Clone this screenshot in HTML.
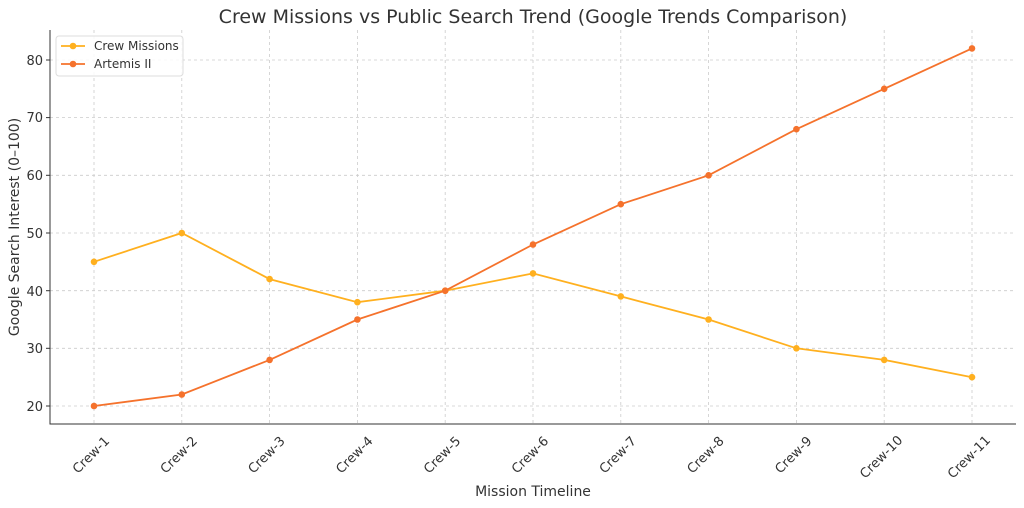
<!DOCTYPE html>
<html><head><meta charset="utf-8"><style>body{margin:0;background:#fff}svg{display:block}text{font-family:"DejaVu Sans","Liberation Sans",sans-serif;fill:#333}</style></head><body>
<svg width="1024" height="508" viewBox="0 0 1024 508" xmlns="http://www.w3.org/2000/svg">
<text x="533" y="23" font-size="19" text-anchor="middle">Crew Missions vs Public Search Trend (Google Trends Comparison)</text>
<g stroke="#ccc" stroke-width="0.8" stroke-dasharray="3,3">
<line x1="94" y1="30" x2="94" y2="424"/><line x1="181.8" y1="30" x2="181.8" y2="424"/><line x1="269.6" y1="30" x2="269.6" y2="424"/><line x1="357.4" y1="30" x2="357.4" y2="424"/><line x1="445.2" y1="30" x2="445.2" y2="424"/><line x1="533" y1="30" x2="533" y2="424"/><line x1="620.8" y1="30" x2="620.8" y2="424"/><line x1="708.6" y1="30" x2="708.6" y2="424"/><line x1="796.4" y1="30" x2="796.4" y2="424"/><line x1="884.2" y1="30" x2="884.2" y2="424"/><line x1="972" y1="30" x2="972" y2="424"/>
<line x1="50" y1="406" x2="1016" y2="406"/><line x1="50" y1="348.3" x2="1016" y2="348.3"/><line x1="50" y1="290.7" x2="1016" y2="290.7"/><line x1="50" y1="233" x2="1016" y2="233"/><line x1="50" y1="175.3" x2="1016" y2="175.3"/><line x1="50" y1="117.6" x2="1016" y2="117.6"/><line x1="50" y1="60" x2="1016" y2="60"/>
</g>
<g stroke="#333" stroke-width="1">
<line x1="50" y1="30" x2="50" y2="424.5"/><line x1="50" y1="424" x2="1016" y2="424"/>
<line x1="46" y1="406" x2="50" y2="406"/><line x1="46" y1="348.3" x2="50" y2="348.3"/><line x1="46" y1="290.7" x2="50" y2="290.7"/><line x1="46" y1="233" x2="50" y2="233"/><line x1="46" y1="175.3" x2="50" y2="175.3"/><line x1="46" y1="117.6" x2="50" y2="117.6"/><line x1="46" y1="60" x2="50" y2="60"/>
</g>
<g font-size="13" text-anchor="end">
<text x="43" y="411">20</text><text x="43" y="353">30</text><text x="43" y="296">40</text><text x="43" y="238">50</text><text x="43" y="180">60</text><text x="43" y="122">70</text><text x="43" y="65">80</text>
</g>
<g font-size="13" text-anchor="middle">
<text transform="translate(94,458) rotate(-45)">Crew-1</text>
<text transform="translate(181.8,458) rotate(-45)">Crew-2</text>
<text transform="translate(269.6,458) rotate(-45)">Crew-3</text>
<text transform="translate(357.4,458) rotate(-45)">Crew-4</text>
<text transform="translate(445.2,458) rotate(-45)">Crew-5</text>
<text transform="translate(533,458) rotate(-45)">Crew-6</text>
<text transform="translate(620.8,458) rotate(-45)">Crew-7</text>
<text transform="translate(708.6,458) rotate(-45)">Crew-8</text>
<text transform="translate(796.4,458) rotate(-45)">Crew-9</text>
<text transform="translate(884.2,460) rotate(-45)">Crew-10</text>
<text transform="translate(972,460) rotate(-45)">Crew-11</text>
</g>
<text x="533" y="496" font-size="14" text-anchor="middle">Mission Timeline</text>
<text transform="translate(19,227) rotate(-90)" font-size="14" text-anchor="middle">Google Search Interest (0–100)</text>
<polyline fill="none" stroke="#FFB01F" stroke-width="1.8" points="94,261.8 181.8,233 269.6,279.1 357.4,302.2 445.2,290.7 533,273.4 620.8,296.4 708.6,319.5 796.4,348.3 884.2,359.9 972,377.2"/>
<g fill="#FFB01F"><circle cx="94" cy="261.8" r="3.3"/><circle cx="181.8" cy="233" r="3.3"/><circle cx="269.6" cy="279.1" r="3.3"/><circle cx="357.4" cy="302.2" r="3.3"/><circle cx="445.2" cy="290.7" r="3.3"/><circle cx="533" cy="273.4" r="3.3"/><circle cx="620.8" cy="296.4" r="3.3"/><circle cx="708.6" cy="319.5" r="3.3"/><circle cx="796.4" cy="348.3" r="3.3"/><circle cx="884.2" cy="359.9" r="3.3"/><circle cx="972" cy="377.2" r="3.3"/></g>
<polyline fill="none" stroke="#F5722C" stroke-width="1.8" points="94,406 181.8,394.5 269.6,359.9 357.4,319.5 445.2,290.7 533,244.5 620.8,204.2 708.6,175.3 796.4,129.2 884.2,88.8 972,48.4"/>
<g fill="#F5722C"><circle cx="94" cy="406" r="3.3"/><circle cx="181.8" cy="394.5" r="3.3"/><circle cx="269.6" cy="359.9" r="3.3"/><circle cx="357.4" cy="319.5" r="3.3"/><circle cx="445.2" cy="290.7" r="3.3"/><circle cx="533" cy="244.5" r="3.3"/><circle cx="620.8" cy="204.2" r="3.3"/><circle cx="708.6" cy="175.3" r="3.3"/><circle cx="796.4" cy="129.2" r="3.3"/><circle cx="884.2" cy="88.8" r="3.3"/><circle cx="972" cy="48.4" r="3.3"/></g>
<rect x="56" y="36" width="127" height="40" rx="3" fill="#fff" fill-opacity="0.85" stroke="#ddd"/>
<line x1="61" y1="46" x2="85" y2="46" stroke="#FFB01F" stroke-width="1.8"/><circle cx="73" cy="46" r="3.3" fill="#FFB01F"/>
<line x1="61" y1="64" x2="85" y2="64" stroke="#F5722C" stroke-width="1.8"/><circle cx="73" cy="64" r="3.3" fill="#F5722C"/>
<text x="94" y="50" font-size="12">Crew Missions</text>
<text x="94" y="68" font-size="12">Artemis II</text>
</svg>
</body></html>
